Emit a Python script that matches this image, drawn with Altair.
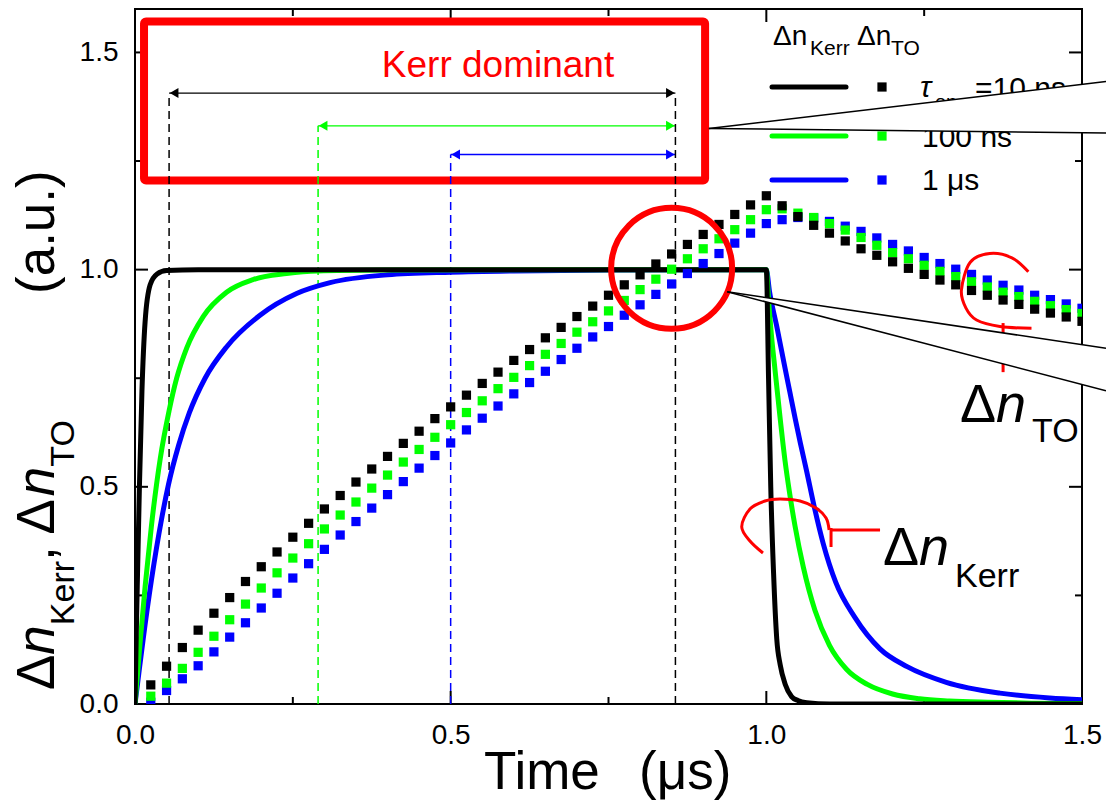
import altair as alt
import pandas as pd

# ---------------------------------------------------------------------------
# Thermo-optic index change (square markers), one sample every 25 ns
# ---------------------------------------------------------------------------
t_to = [0.025, 0.05, 0.075, 0.1, 0.125, 0.15, 0.175, 0.2, 0.225, 0.25,
        0.275, 0.3, 0.325, 0.35, 0.375, 0.4, 0.425, 0.45, 0.475, 0.5,
        0.525, 0.55, 0.575, 0.6, 0.625, 0.65, 0.675, 0.7, 0.725, 0.75,
        0.775, 0.8, 0.825, 0.85, 0.875, 0.9, 0.925, 0.95, 0.975, 1.0,
        1.025, 1.05, 1.075, 1.1, 1.125, 1.15, 1.175, 1.2, 1.225, 1.25,
        1.275, 1.3, 1.325, 1.35, 1.375, 1.4, 1.425, 1.45, 1.475, 1.5]

to_10ns = [0.044, 0.087, 0.130, 0.170, 0.209, 0.245, 0.282, 0.316, 0.350, 0.384,
           0.416, 0.449, 0.480, 0.511, 0.541, 0.570, 0.600, 0.628, 0.657, 0.684,
           0.711, 0.738, 0.764, 0.791, 0.816, 0.843, 0.867, 0.892, 0.916, 0.941,
           0.965, 0.988, 1.013, 1.036, 1.058, 1.081, 1.104, 1.127, 1.149, 1.170,
           1.147, 1.122, 1.102, 1.084, 1.066, 1.048, 1.033, 1.018, 1.003, 0.989,
           0.976, 0.965, 0.952, 0.941, 0.930, 0.920, 0.909, 0.900, 0.891, 0.881]

to_100ns = [0.018, 0.048, 0.082, 0.119, 0.156, 0.194, 0.230, 0.267, 0.302, 0.336,
            0.369, 0.403, 0.435, 0.465, 0.497, 0.527, 0.557, 0.586, 0.614, 0.643,
            0.671, 0.698, 0.726, 0.752, 0.779, 0.805, 0.830, 0.856, 0.880, 0.905,
            0.929, 0.954, 0.978, 1.001, 1.025, 1.048, 1.071, 1.092, 1.115, 1.138,
            1.140, 1.130, 1.120, 1.106, 1.091, 1.074, 1.056, 1.039, 1.025, 1.010,
            0.996, 0.984, 0.972, 0.960, 0.948, 0.938, 0.927, 0.917, 0.908, 0.899]

to_1us = [0.004, 0.031, 0.058, 0.088, 0.120, 0.154, 0.187, 0.221, 0.255, 0.290,
          0.323, 0.356, 0.389, 0.420, 0.451, 0.482, 0.512, 0.543, 0.572, 0.601,
          0.631, 0.658, 0.686, 0.714, 0.740, 0.766, 0.793, 0.819, 0.845, 0.869,
          0.895, 0.919, 0.943, 0.967, 0.991, 1.014, 1.037, 1.061, 1.084, 1.106,
          1.115, 1.120, 1.119, 1.111, 1.100, 1.088, 1.073, 1.058, 1.043, 1.028,
          1.014, 1.001, 0.989, 0.976, 0.964, 0.953, 0.941, 0.931, 0.921, 0.911]

# ---------------------------------------------------------------------------
# Kerr index change (solid lines)
# ---------------------------------------------------------------------------
kerr_10ns_t = [0.0, 0.002, 0.004, 0.007, 0.011, 0.016, 0.024, 0.035, 0.05, 0.1,
               1.0, 1.0035, 1.007, 1.0115, 1.0165, 1.022, 1.03, 1.04, 1.05, 1.064,
               1.1, 1.5]
kerr_10ns = [0.0, 0.16, 0.30, 0.50, 0.72, 0.88, 0.965, 0.99, 0.998, 1.0,
             1.0, 0.75, 0.50, 0.30, 0.15, 0.09, 0.045, 0.017, 0.008, 0.003,
             0.0, 0.0]

kerr_100ns_t = [0.0, 0.004, 0.008, 0.016, 0.026, 0.04, 0.054, 0.066, 0.082, 0.108,
                0.145, 0.187, 0.24, 0.29, 0.4, 0.6, 1.0, 1.004, 1.008, 1.0137,
                1.0206, 1.0296, 1.0364, 1.0454, 1.0586, 1.0771, 1.1, 1.127, 1.16, 1.2,
                1.243, 1.29, 1.35, 1.42, 1.5]
kerr_100ns = [0.0, 0.07, 0.14, 0.27, 0.41, 0.565, 0.675, 0.75, 0.82, 0.892,
              0.948, 0.977, 0.991, 0.997, 0.999, 1.0, 1.0, 0.92, 0.85, 0.77,
              0.675, 0.56, 0.49, 0.41, 0.315, 0.215, 0.135, 0.08, 0.045, 0.023,
              0.012, 0.007, 0.004, 0.002, 0.001]

kerr_1us_t = [0.0, 0.006, 0.013, 0.026, 0.042, 0.053, 0.069, 0.086, 0.111, 0.145,
              0.198, 0.256, 0.309, 0.4, 0.5, 0.6, 0.75, 1.0, 1.005, 1.0164,
              1.028, 1.037, 1.046, 1.054, 1.064, 1.075, 1.09, 1.11, 1.14, 1.18,
              1.223, 1.285, 1.37, 1.449, 1.5]
kerr_1us = [0.0, 0.07, 0.15, 0.285, 0.425, 0.505, 0.595, 0.67, 0.75, 0.822,
            0.895, 0.945, 0.97, 0.988, 0.994, 0.997, 0.999, 1.0, 0.95, 0.87,
            0.785, 0.72, 0.655, 0.6, 0.535, 0.46, 0.37, 0.28, 0.2, 0.127,
            0.086, 0.05, 0.025, 0.014, 0.01]

# Axis ticks
x_major = [0.0, 0.5, 1.0, 1.5]
x_minor = [0.25, 0.75, 1.25]
y_major = [0.0, 0.5, 1.0, 1.5]
y_minor = [0.25, 0.75, 1.25]

legend_labels = ["=10 ns", "100 ns", "1 \u03bcs"]

BLACK, GREEN, BLUE, RED = "#000000", "#00ff00", "#0000ff", "#ff0000"
FONT = "Liberation Sans"
W, H = 947, 695

SX = alt.Scale(domain=[0, 1.5], nice=False, zero=False)
SY = alt.Scale(domain=[0, 1.6], nice=False, zero=False)
AX = alt.Axis(values=x_major, format=".1f", title=None, ticks=False, tickSize=0,
              domain=False, grid=False, labelPadding=17, labelFlush=False,
              labelOverlap=False, labelFontSize=28, labelFont=FONT, labelColor="black")
AY = alt.Axis(values=y_major, format=".1f", title=None, ticks=False, tickSize=0,
              domain=False, grid=False, labelPadding=17, labelOverlap=False,
              labelFontSize=28, labelFont=FONT, labelColor="black")


def X(field):
    return alt.X(field, type="quantitative", scale=SX, axis=AX)


def Y(field):
    return alt.Y(field, type="quantitative", scale=SY, axis=AY)


def XD(v):
    return alt.XDatum(v, type="quantitative", scale=SX, axis=AX)


def YD(v):
    return alt.YDatum(v, type="quantitative", scale=SY, axis=AY)


one = pd.DataFrame({"k": [0]})
layers = []

# --- frame ticks, pointing inwards on all four sides ---
for vals, size in ((x_major, 13), (x_minor, 7)):
    df = pd.DataFrame({"t": vals})
    layers.append(alt.Chart(df).mark_rule(color=BLACK, strokeWidth=2).encode(
        x=X("t"), y=alt.value(H), y2=alt.value(H - size)))
    layers.append(alt.Chart(df).mark_rule(color=BLACK, strokeWidth=2).encode(
        x=X("t"), y=alt.value(0), y2=alt.value(size)))
for vals, size in ((y_major, 13), (y_minor, 7)):
    df = pd.DataFrame({"v": vals})
    layers.append(alt.Chart(df).mark_rule(color=BLACK, strokeWidth=2).encode(
        y=Y("v"), x=alt.value(0), x2=alt.value(size)))
    layers.append(alt.Chart(df).mark_rule(color=BLACK, strokeWidth=2).encode(
        y=Y("v"), x=alt.value(W), x2=alt.value(W - size)))

# --- "Kerr dominant" box ---
layers.append(alt.Chart(one).mark_rect(fillOpacity=0, stroke=RED, strokeWidth=8,
                                       cornerRadius=2).encode(
    x=XD(0.0143), x2=alt.X2Datum(0.903), y=YD(1.571), y2=alt.Y2Datum(1.205)))

# --- dashed markers and the Kerr-dominant time spans ---
spans = [(0.054, 0.856, 1.4065, BLACK), (0.29, 0.856, 1.331, GREEN), (0.5, 0.856, 1.265, BLUE)]
for t0, t1, lvl, col in spans:
    layers.append(alt.Chart(one).mark_rule(color=col, strokeWidth=1.5, strokeDash=[8, 5]).encode(
        x=XD(t0), y=YD(0), y2=alt.Y2Datum(lvl)))
    layers.append(alt.Chart(one).mark_rule(color=col, strokeWidth=1.3).encode(
        x=XD(t0), x2=alt.X2Datum(t1), y=YD(lvl)))
    layers.append(alt.Chart(one).mark_point(shape="triangle-left", filled=True, size=100,
                                            color=col, opacity=1, xOffset=5).encode(
        x=XD(t0), y=YD(lvl)))
    layers.append(alt.Chart(one).mark_point(shape="triangle-right", filled=True, size=100,
                                            color=col, opacity=1, xOffset=-5).encode(
        x=XD(t1), y=YD(lvl)))
layers.append(alt.Chart(one).mark_rule(color=BLACK, strokeWidth=1.5, strokeDash=[8, 5]).encode(
    x=XD(0.856), y=YD(0), y2=alt.Y2Datum(1.4065)))

# --- Kerr curves ---
for tt, vv, col in ((kerr_1us_t, kerr_1us, BLUE), (kerr_100ns_t, kerr_100ns, GREEN),
                    (kerr_10ns_t, kerr_10ns, BLACK)):
    df = pd.DataFrame({"t": tt, "v": vv})
    layers.append(alt.Chart(df).mark_line(color=col, strokeWidth=5, interpolate="monotone",
                                          clip=True).encode(x=X("t"), y=Y("v")))

# --- thermo-optic markers ---
for vv, col in ((to_1us, BLUE), (to_100ns, GREEN), (to_10ns, BLACK)):
    df = pd.DataFrame({"t": t_to, "v": vv})
    layers.append(alt.Chart(df).mark_square(color=col, size=85, opacity=1, clip=True).encode(
        x=X("t"), y=Y("v")))

# --- red highlight circle ---
layers.append(alt.Chart(one).mark_point(shape="circle", filled=False, size=14641, color=RED,
                                        strokeWidth=6, opacity=1).encode(
    x=XD(0.85), y=YD(1.003)))


# --- hand-drawn brackets pointing at each family of curves ---
def scribble(pts):
    df = pd.DataFrame({"i": range(len(pts)), "t": [p[0] for p in pts], "v": [p[1] for p in pts]})
    return alt.Chart(df).mark_line(color=RED, strokeWidth=3, interpolate="cardinal").encode(
        x=X("t"), y=Y("v"), order=alt.Order("i:Q"))


layers.append(scribble([(1.415, 0.995), (1.389, 1.027), (1.354, 1.037), (1.323, 1.017),
                        (1.309, 0.953), (1.316, 0.912), (1.333, 0.884), (1.370, 0.869),
                        (1.420, 0.865)]))
layers.append(alt.Chart(one).mark_rule(color=RED, strokeWidth=3).encode(
    x=XD(1.375), y=YD(0.877), y2=alt.Y2Datum(0.764)))
layers.append(scribble([(0.9947, 0.3476), (0.9741, 0.3752), (0.961, 0.4082), (0.9741, 0.4489),
                        (0.9979, 0.4673), (1.0217, 0.4719), (1.0534, 0.4673), (1.0787, 0.4512),
                        (1.0946, 0.4282), (1.0994, 0.4006)]))
layers.append(alt.Chart(one).mark_rule(color=RED, strokeWidth=3).encode(
    x=XD(1.1025), y=YD(0.4052), y2=alt.Y2Datum(0.3614)))
layers.append(alt.Chart(one).mark_rule(color=RED, strokeWidth=3).encode(
    x=XD(1.1025), x2=alt.X2Datum(1.1801), y=YD(0.4006)))


# --- text helpers ---
def txt(s, x, y, size, italic=False, color=BLACK, angle=0, align="left"):
    return alt.Chart(one).mark_text(
        text=s, font=FONT, fontSize=size, fontStyle="italic" if italic else "normal",
        color=color, angle=angle, align=align, baseline="alphabetic").encode(
        x=alt.value(x), y=alt.value(y))


# Arial / Liberation Sans advance widths (em)
ADV = {"\u0394": 0.667, "n": 0.556, "K": 0.667, "e": 0.556, "r": 0.333, ",": 0.278,
       " ": 0.278, "T": 0.611, "O": 0.778, "(": 0.333, "a": 0.556, ".": 0.278,
       "u": 0.556, ")": 0.333}


def adv(s, size):
    return sum(ADV.get(c, 0.556) for c in s) * size


# --- legend ---
rows = [78, 127, 171]
for ry, col in zip(rows, (BLACK, GREEN, BLUE)):
    layers.append(alt.Chart(one).mark_rule(color=col, strokeWidth=5, strokeCap="round").encode(
        x=alt.value(637), x2=alt.value(711), y=alt.value(ry)))
    layers.append(alt.Chart(one).mark_square(color=col, size=85, opacity=1).encode(
        x=alt.value(747), y=alt.value(ry)))
layers.append(txt("\u0394n", 638, 36, 28))
layers.append(txt("Kerr", 675, 46, 21))
layers.append(txt("\u0394n", 722, 36, 28))
layers.append(txt("TO", 756, 46, 21))
layers.append(txt("\u03c4", 785, 88, 30, italic=True))
layers.append(txt("on", 800, 100, 20))
layers.append(txt(legend_labels[0], 840, 89, 30))
layers.append(txt(legend_labels[1], 787, 138, 30))
layers.append(txt(legend_labels[2], 787, 181, 30))

# --- in-plot labels ---
layers.append(txt("Kerr dominant", 363, 68, 37, color=RED, align="center"))
layers.append(txt("\u0394", 825, 413, 54))
layers.append(txt("n", 825 + adv("\u0394", 54), 413, 54, italic=True))
layers.append(txt("TO", 897, 433, 34))
layers.append(txt("\u0394", 748, 556, 54))
layers.append(txt("n", 748 + adv("\u0394", 54), 556, 54, italic=True))
layers.append(txt("Kerr", 820, 578, 34))

# --- axis titles (spaces between words set by position) ---
layers.append(txt("Time", 349, 780, 53))
layers.append(txt("(\u03bcs)", 504, 780, 53))
pieces = [("\u0394", 53, False, 0), ("n", 53, True, 0), ("Kerr", 34, False, 20),
          (", \u0394", 53, False, 0), ("n", 53, True, 0), ("TO", 34, False, 20)]
ypos = 681
for s, size, it, shift in pieces:
    layers.append(txt(s, -81 + shift, ypos, size, italic=it, angle=270))
    ypos -= adv(s, size)
layers.append(txt("(a.u.)", -81, 285, 53, angle=270))

# --- magnifier call-outs leaving the plot on the right ---
for t0, v0, vt, vb in ((0.909, 1.325, 1.433, 1.3145), (0.938, 0.949, 0.819, 0.721)):
    df = pd.DataFrame({"t": [t0, 1.538], "top": [v0, vt], "bot": [v0, vb]})
    layers.append(alt.Chart(df).mark_area(color="white", opacity=1, orient="vertical").encode(
        x=X("t"), y=Y("top"), y2="bot:Q"))
    for v1 in (vt, vb):
        layers.append(alt.Chart(one).mark_rule(color=BLACK, strokeWidth=1.5).encode(
            x=XD(t0), y=YD(v0), x2=alt.X2Datum(1.538), y2=alt.Y2Datum(v1)))

chart = alt.layer(*layers).properties(
    width=W, height=H,
    autosize=alt.AutoSizeParams(type="none"),
    padding={"left": 135, "top": 9, "right": 24, "bottom": 96},
).configure_view(stroke="black", strokeWidth=2)

chart.save("out.html", embed_options={"renderer": "svg", "actions": False})
